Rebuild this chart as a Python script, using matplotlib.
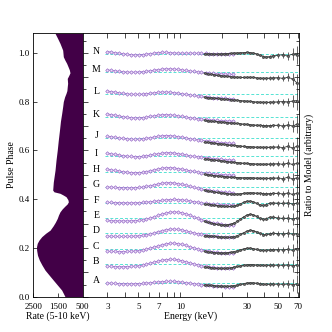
import matplotlib
matplotlib.use("Agg")
import matplotlib.pyplot as plt
import numpy as np
from matplotlib.ticker import FixedLocator, FixedFormatter, MultipleLocator, NullFormatter, NullLocator

plt.rcParams["font.family"] = ["Liberation Serif", "DejaVu Serif"]
plt.rcParams["font.size"] = 7

# pulse profile (5-10 keV)
profile_phase = [0.000, 0.027, 0.068, 0.090, 0.109, 0.130, 0.150, 0.170, 0.191, 0.205,
                 0.219, 0.232, 0.246, 0.260, 0.273, 0.290, 0.305, 0.321, 0.335, 0.348,
                 0.360, 0.372, 0.380, 0.389, 0.398, 0.410, 0.417, 0.424, 0.430, 0.437,
                 0.470, 0.519, 0.560, 0.601, 0.640, 0.683, 0.720, 0.752, 0.780, 0.800,
                 0.820, 0.834, 0.845, 0.861, 0.875, 0.895, 0.908, 0.918, 0.930, 0.940,
                 0.957, 0.970, 0.984, 1.011, 1.039, 1.060, 1.080]
profile_rate = [1215, 1350, 1690, 1870, 2025, 2150, 2255, 2330, 2365, 2370,
                2340, 2270, 2160, 2000, 1820, 1700, 1610, 1530, 1480, 1420,
                1330, 1215, 1130, 1080, 1100, 1175, 1290, 1420, 1660, 1715,
                1690, 1620, 1580, 1530, 1490, 1440, 1400, 1350, 1310, 1285,
                1230, 1175, 1140, 1125, 1110, 1125, 1060, 1015, 1040, 1080,
                1150, 1220, 1285, 1310, 1420, 1520, 1620]

# phase-resolved spectra, ratio to model (percent deviation)
spec_labels = ["A", "B", "C", "D", "E", "F", "G", "H", "I", "J", "K", "L", "M", "N"]
spec_phase = [0.055, 0.133, 0.197, 0.261, 0.324, 0.386, 0.450,
              0.512, 0.577, 0.649, 0.735, 0.831, 0.922, 0.995]

energy_lo = [3.00, 3.20, 3.42, 3.64, 3.89, 4.15, 4.43, 4.72, 5.04, 5.37, 5.73,
             6.12, 6.53, 6.96, 7.43, 7.93, 8.46, 9.02, 9.63, 10.3, 11.0, 11.7,
             12.5, 13.3, 14.2, 15.2, 16.2, 17.2, 18.4, 19.6, 20.9, 22.3, 23.8]
energy_hi = [15.0, 15.8, 16.7, 17.6, 18.6, 19.6, 20.7, 21.8, 23.0, 24.3, 25.6,
             27.0, 28.5, 30.1, 31.7, 33.5, 35.3, 37.3, 39.3, 41.5, 43.8, 46.2,
             50.0, 54.5, 59.0, 64.0, 68.5]
err_hi = [0.5, 0.5, 0.5, 0.5, 0.6, 0.6, 0.6, 0.7, 0.7, 0.7, 0.8, 0.8, 0.9, 0.9,
          1.0, 1.0, 1.1, 1.2, 1.3, 1.4, 1.6, 1.8, 2.5, 3.0, 4.0, 6.0, 9.0]

lo_A = [0.3, 0.1, -0.1, -0.3, -0.4, -0.5, -0.5, -0.4, -0.3, -0.1, 0.2, 0.6, 1.0, 1.4, 1.7, 1.9, 2.0,
        1.9, 1.6, 1.2, 0.7, 0.2, -0.3, -0.8, -1.3, -1.7, -2.1, -2.5, -2.8, -3.1, -3.3, -3.4, -3.4]
hi_A = [-1.5, -1.8, -2.1, -2.4, -2.6, -2.8, -2.9, -2.9, -2.7, -2.3, -1.7, -1.0, -0.3, 0.3,
        0.6, 0.5, 0.1, -0.4, -0.7, -0.8, -0.8, -0.7, -0.8, -1.0, -0.6, -1.3, -0.7]
lo_B = [-2.0, -2.2, -2.3, -2.4, -2.4, -2.3, -2.1, -1.8, -1.4, -0.8, 0.0, 1.0, 2.1, 3.2, 4.1, 4.7, 5.0,
        4.9, 4.4, 3.6, 2.6, 1.5, 0.4, -0.6, -1.4, -2.1, -2.7, -3.2, -3.6, -3.9, -4.1, -4.2, -4.1]
hi_B = [-2.6, -3.0, -3.4, -3.7, -4.0, -4.1, -4.1, -3.9, -3.5, -2.9, -2.2, -1.5, -0.9, -0.5,
        -0.3, -0.4, -0.6, -0.8, -0.9, -0.9, -0.8, -0.8, -0.9, -1.0, -0.7, -1.4, -0.8]
lo_C = [-2.5, -2.7, -2.8, -2.9, -2.9, -2.8, -2.6, -2.3, -1.9, -1.3, -0.5, 0.5, 1.7, 2.9, 4.0, 4.9, 5.4,
        5.5, 5.1, 4.3, 3.2, 2.0, 0.8, -0.3, -1.2, -2.0, -2.7, -3.3, -3.8, -4.1, -4.3, -4.3, -4.2]
hi_C = [-2.8, -3.2, -3.6, -3.9, -4.1, -4.3, -4.3, -4.1, -3.7, -3.0, -2.1, -1.1, -0.2, 0.4,
        0.5, 0.1, -0.7, -1.4, -1.7, -1.5, -1.1, -0.9, -1.0, -1.1, -0.8, -1.5, -0.8]
lo_D = [-3.0, -3.2, -3.3, -3.4, -3.4, -3.3, -3.2, -3.0, -2.7, -2.2, -1.5, -0.7, 0.3, 1.4, 2.5, 3.4, 3.9,
        4.0, 3.7, 3.0, 2.1, 1.1, 0.1, -0.7, -1.4, -2.0, -2.5, -2.9, -3.3, -3.6, -3.8, -4.0, -4.0]
hi_D = [-2.5, -2.8, -3.1, -3.4, -3.7, -3.9, -4.1, -4.2, -4.1, -3.6, -2.6, -1.2, 0.4, 1.8,
        2.6, 2.4, 1.2, -0.4, -1.6, -1.4, -0.6, -0.2, -0.5, -0.8, -0.4, -1.0, -0.5]
lo_E = [-2.8, -3.0, -3.1, -3.2, -3.2, -3.2, -3.1, -2.9, -2.6, -2.1, -1.3, -0.3, 1.0, 2.4, 3.7, 4.8, 5.5,
        5.8, 5.6, 4.9, 3.8, 2.5, 1.0, -0.5, -1.9, -3.1, -4.2, -5.1, -5.8, -6.4, -6.9, -7.1, -7.2]
hi_E = [-3.8, -4.6, -5.4, -6.1, -6.7, -7.1, -7.3, -7.2, -6.6, -5.4, -3.6, -1.4, 0.9, 2.6,
        3.3, 2.8, 1.2, -0.8, -1.8, -0.9, 0.4, 0.6, -0.3, -0.7, -0.5, -1.2, -0.4]
lo_F = [0.2, 0.1, 0.0, -0.1, -0.2, -0.3, -0.3, -0.2, -0.1, 0.1, 0.4, 0.8, 1.3, 1.8, 2.3, 2.7, 3.0,
        3.1, 3.0, 2.7, 2.2, 1.6, 1.0, 0.4, -0.2, -0.7, -1.1, -1.5, -1.8, -2.1, -2.3, -2.4, -2.5]
hi_F = [-1.5, -1.8, -2.2, -2.6, -3.0, -3.3, -3.6, -3.8, -3.8, -3.4, -2.5, -1.2, 0.2, 1.2,
        1.4, 0.6, -0.8, -2.2, -2.8, -2.0, -0.8, -0.4, -0.6, -0.8, -0.3, -1.5, -0.5]
lo_G = [0.0, -0.2, -0.4, -0.6, -0.7, -0.8, -0.8, -0.7, -0.5, -0.1, 0.5, 1.3, 2.2, 3.1, 3.8, 4.2, 4.3,
        4.0, 3.4, 2.6, 1.6, 0.6, -0.4, -1.3, -2.1, -2.8, -3.4, -3.9, -4.4, -4.8, -5.2, -5.5, -5.8]
hi_G = [-3.5, -4.0, -4.5, -5.0, -5.5, -5.9, -6.3, -6.6, -6.9, -7.0, -7.0, -6.8, -6.4, -6.0,
        -5.8, -5.9, -6.2, -6.5, -6.7, -6.7, -6.6, -6.5, -6.4, -7.0, -6.0, -7.5, -6.5]
lo_H = [2.5, 2.0, 1.4, 0.8, 0.2, -0.3, -0.7, -0.9, -0.8, -0.4, 0.3, 1.2, 2.1, 3.0, 3.7, 4.1, 4.2,
        3.9, 3.3, 2.6, 1.8, 1.1, 0.4, -0.2, -0.7, -1.2, -1.6, -2.0, -2.4, -2.7, -3.0, -3.2, -3.4]
hi_H = [-2.5, -2.9, -3.3, -3.7, -4.1, -4.4, -4.7, -5.0, -5.3, -5.5, -5.7, -5.8, -5.9, -5.9,
        -5.9, -6.0, -6.2, -6.4, -6.5, -6.5, -6.4, -6.3, -6.1, -6.8, -5.5, -7.0, -6.0]
lo_I = [2.7, 2.2, 1.6, 1.0, 0.4, -0.1, -0.5, -0.7, -0.6, -0.3, 0.2, 0.9, 1.6, 2.3, 2.9, 3.3, 3.3,
        3.0, 2.4, 1.7, 1.0, 0.3, -0.3, -0.8, -1.3, -1.8, -2.2, -2.6, -3.0, -3.3, -3.6, -3.9, -4.1]
hi_I = [-2.8, -3.2, -3.6, -4.0, -4.4, -4.8, -5.2, -5.6, -6.0, -6.3, -6.6, -6.9, -7.2, -7.4,
        -7.6, -7.8, -8.0, -8.1, -8.2, -8.1, -8.0, -7.9, -7.7, -8.3, -7.2, -8.5, -7.5]
lo_J = [2.3, 1.7, 1.1, 0.5, 0.0, -0.4, -0.7, -0.8, -0.7, -0.4, 0.1, 0.8, 1.5, 2.2, 2.7, 2.9, 2.8,
        2.4, 1.8, 1.2, 0.5, -0.2, -0.8, -1.4, -2.0, -2.5, -3.0, -3.4, -3.8, -4.1, -4.4, -4.7, -4.9]
hi_J = [-3.5, -3.9, -4.3, -4.7, -5.1, -5.5, -5.9, -6.3, -6.7, -7.0, -7.3, -7.6, -7.9, -8.1,
        -8.3, -8.5, -8.7, -8.8, -8.9, -8.9, -8.8, -8.7, -8.5, -9.2, -8.0, -9.5, -8.0]
lo_K = [3.5, 2.9, 2.2, 1.5, 0.8, 0.2, -0.2, -0.4, -0.4, -0.1, 0.4, 1.0, 1.7, 2.3, 2.7, 2.8, 2.6,
        2.2, 1.6, 1.0, 0.4, -0.2, -0.7, -1.2, -1.6, -2.0, -2.4, -2.7, -3.0, -3.2, -3.4, -3.6, -3.7]
hi_K = [-3.0, -3.3, -3.6, -3.9, -4.2, -4.5, -4.8, -5.1, -5.4, -5.7, -6.0, -6.3, -6.6, -6.9,
        -7.2, -7.5, -7.7, -7.9, -8.1, -8.2, -8.1, -8.0, -7.8, -8.5, -7.5, -8.5, -7.0]
lo_L = [3.0, 2.5, 1.9, 1.3, 0.7, 0.2, -0.1, -0.3, -0.2, 0.0, 0.3, 0.8, 1.3, 1.7, 2.0, 2.0, 1.8,
        1.4, 0.9, 0.3, -0.3, -0.9, -1.4, -1.9, -2.4, -2.8, -3.2, -3.6, -3.9, -4.2, -4.4, -4.6, -4.8]
hi_L = [-3.2, -3.5, -3.8, -4.1, -4.4, -4.7, -5.0, -5.3, -5.6, -5.9, -6.2, -6.5, -6.8, -7.1,
        -7.4, -7.7, -7.9, -8.1, -8.3, -8.3, -8.2, -8.0, -7.8, -7.5, -7.8, -7.0, -6.5]
lo_M = [2.0, 1.5, 1.0, 0.5, 0.1, -0.2, -0.3, -0.3, -0.1, 0.2, 0.6, 1.1, 1.7, 2.3, 2.8, 3.0, 3.0,
        2.8, 2.4, 1.9, 1.4, 0.9, 0.4, -0.1, -0.5, -0.9, -1.3, -1.6, -1.9, -2.1, -2.3, -2.4, -2.5]
hi_M = [-1.5, -2.0, -2.5, -3.0, -3.4, -3.8, -4.2, -4.5, -4.8, -5.1, -5.3, -5.5, -5.6, -5.5,
        -5.4, -5.6, -6.0, -6.3, -6.5, -6.4, -6.2, -6.0, -5.8, -6.5, -5.5, -7.0, -11.0]
lo_N = [2.5, 2.0, 1.5, 0.9, 0.3, -0.2, -0.6, -0.8, -0.8, -0.5, -0.1, 0.5, 1.0, 1.5, 1.8, 1.7, 1.4,
        1.1, 0.9, 0.8, 0.8, 0.9, 0.9, 0.8, 0.7, 0.6, 0.5, 0.3, 0.2, 0.1, 0.1, 0.0, 0.0]
hi_N = [0.3, 0.2, 0.1, 0.0, 0.0, 0.1, 0.3, 0.5, 0.7, 0.9, 1.1, 1.3, 1.5, 1.6,
        1.5, 1.0, 0.1, -1.2, -2.5, -2.9, -2.5, -1.7, -1.2, -0.7, -1.5, -0.2, -0.7]

dev_lo = [lo_A, lo_B, lo_C, lo_D, lo_E, lo_F, lo_G, lo_H, lo_I, lo_J, lo_K, lo_L, lo_M, lo_N]
dev_hi = [hi_A, hi_B, hi_C, hi_D, hi_E, hi_F, hi_G, hi_H, hi_I, hi_J, hi_K, hi_L, hi_M, hi_N]

# percent of ratio -> phase units on the shared vertical axis
ratio_scale = 0.0041

fig = plt.figure(figsize=(3.32, 3.32), dpi=100)
ax_l = fig.add_axes([0.1003, 0.1063, 0.1488, 0.7934])
ax_r = fig.add_axes([0.2491, 0.1063, 0.6515, 0.7934])

# left: pulse profile
ax_l.fill_betweenx(profile_phase, profile_rate, 0, color="#420047", lw=0)
ax_l.set_xlim(2500, 500)
ax_l.set_ylim(0, 1.08)
ax_l.set_xticks([2500, 1500, 500])
ax_l.set_yticks([0.0, 0.2, 0.4, 0.6, 0.8, 1.0])
ax_l.set_yticklabels(["0.0", "0.2", "0.4", "0.6", "0.8", "1.0"])
ax_l.tick_params(direction="in", length=3, width=0.5, labelsize=6.5, right=False, top=False)
ax_l.tick_params(axis="x", pad=4.5)
ax_l.tick_params(axis="y", pad=2.5)
ax_l.set_xlabel("Rate (5-10 keV)", labelpad=0.5)
ax_l.set_ylabel("Pulse Phase", labelpad=2)

# right: ratio spectra
ex_lo = np.array(energy_lo)
ex_hi = np.array(energy_hi)
for lab, y0, dlo, dhi in zip(spec_labels, spec_phase, dev_lo, dev_hi):
    ax_r.hlines(y0, 2.9, 70, colors="#55e3d3", linestyles=(0, (3, 2)), lw=0.7, zorder=1)
    ax_r.plot(ex_lo, y0 + np.array(dlo) * ratio_scale, "-D", color="#a27ad2", ms=1.8,
              mfc="#ece2f7", mec="#9a6cc9", mew=0.5, lw=0.6, zorder=2)
    y_hi = y0 + np.array(dhi) * ratio_scale
    ax_r.plot(ex_hi, y_hi, "-", color="#3a3a3a", lw=0.6, zorder=3)
    ax_r.errorbar(ex_hi, y_hi, yerr=np.array(err_hi) * ratio_scale,
                  xerr=ex_hi * 0.027, fmt="o", ms=1.7, mfc="#6a6a6a", mec="#2a2a2a", mew=0.3,
                  ecolor="#222222", elinewidth=0.5, capsize=0, zorder=3)
    ax_r.text(2.5, y0, lab, ha="center", va="baseline", fontsize=7)

ax_r.set_xscale("log")
ax_r.set_xlim(2.0, 71)
ax_r.set_ylim(0, 1.08)
ax_r.xaxis.set_major_locator(FixedLocator([3, 4, 5, 6, 7, 8, 9, 10, 20, 30, 40, 50, 60, 70]))
ax_r.xaxis.set_major_formatter(FixedFormatter(["3", "", "5", "", "7", "", "", "10",
                                               "", "30", "", "50", "", "70"]))
ax_r.xaxis.set_minor_locator(NullLocator())
ax_r.yaxis.set_major_locator(MultipleLocator(0.1))
ax_r.yaxis.set_minor_locator(MultipleLocator(0.05))
ax_r.yaxis.set_major_formatter(NullFormatter())
ax_r.tick_params(which="both", direction="in", width=0.5, top=True, right=True, pad=4.5,
                 labelsize=6.5)
ax_r.tick_params(which="major", length=3.5)
ax_r.tick_params(which="minor", length=2)
ax_r.set_xlabel("Energy (keV)", labelpad=0.5)
ax_r.yaxis.set_label_position("right")
ax_r.set_ylabel("Ratio to Model (arbitrary)", labelpad=4)

for ax in (ax_l, ax_r):
    for sp in ax.spines.values():
        sp.set_linewidth(0.6)

fig.savefig("out.png", dpi=100)
